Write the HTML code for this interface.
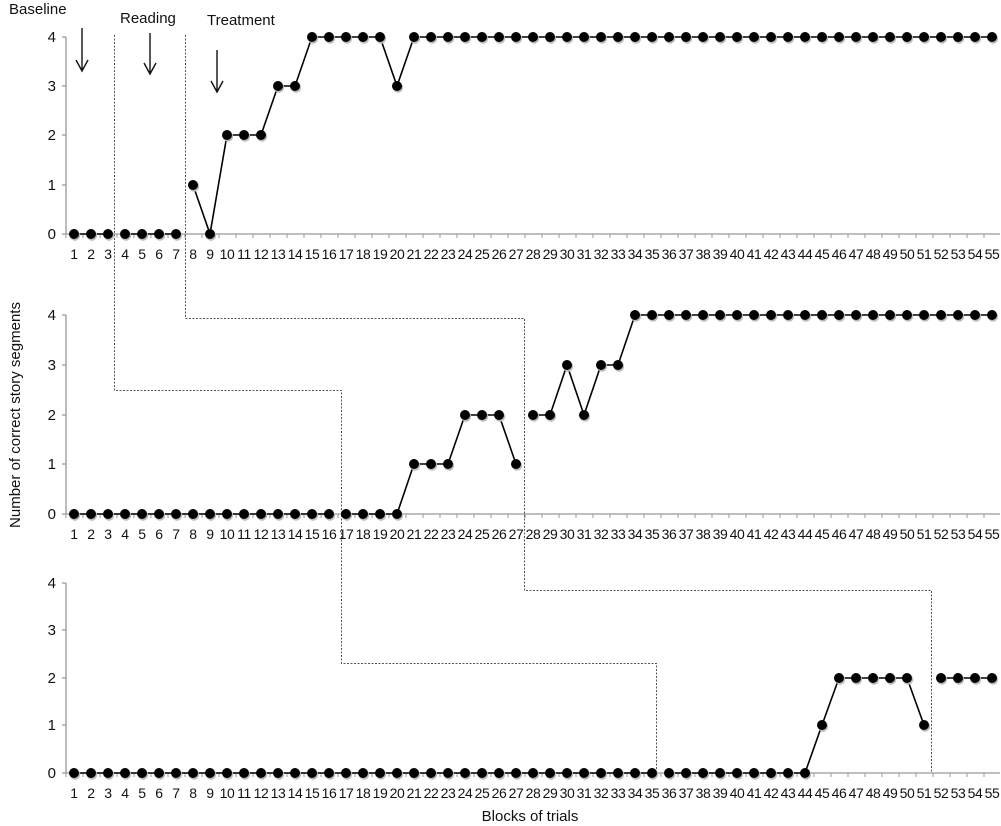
<!DOCTYPE html>
<html><head><meta charset="utf-8"><style>
html,body{margin:0;padding:0;background:#fff;}
svg{display:block;font-family:"Liberation Sans",Arial,sans-serif;}
</style></head><body>
<svg width="1001" height="826" viewBox="0 0 1001 826" xmlns="http://www.w3.org/2000/svg">
<defs>
<marker id="d" markerUnits="userSpaceOnUse" markerWidth="14" markerHeight="14" refX="7" refY="7" viewBox="0 0 14 14">
<circle cx="8" cy="8.5" r="5.2" fill="#bbb"/>
<circle cx="7" cy="7" r="5" fill="#000"/>
</marker>
<g id="lbl" font-size="14" letter-spacing="-0.4" text-anchor="middle" fill="#111">
<text x="74">1</text><text x="91">2</text><text x="108">3</text><text x="125">4</text><text x="142">5</text><text x="159">6</text><text x="176">7</text><text x="193">8</text><text x="210">9</text><text x="227">10</text><text x="244">11</text><text x="261">12</text><text x="278">13</text><text x="295">14</text><text x="312">15</text><text x="329">16</text><text x="346">17</text><text x="363">18</text><text x="380">19</text><text x="397">20</text><text x="414">21</text><text x="431">22</text><text x="448">23</text><text x="465">24</text><text x="482">25</text><text x="499">26</text><text x="516">27</text><text x="533">28</text><text x="550">29</text><text x="567">30</text><text x="584">31</text><text x="601">32</text><text x="618">33</text><text x="635">34</text><text x="652">35</text><text x="669">36</text><text x="686">37</text><text x="703">38</text><text x="720">39</text><text x="737">40</text><text x="754">41</text><text x="771">42</text><text x="788">43</text><text x="805">44</text><text x="822">45</text><text x="839">46</text><text x="856">47</text><text x="873">48</text><text x="890">49</text><text x="907">50</text><text x="924">51</text><text x="941">52</text><text x="958">53</text><text x="975">54</text><text x="992">55</text>
</g>
</defs>

<g stroke="#999" stroke-width="1.3" fill="none">
<line x1="66" y1="37" x2="66" y2="234"/><line x1="66" y1="234" x2="1000" y2="234"/>
<line x1="65.5" y1="236" x2="1000" y2="236" stroke-width="4" stroke-dasharray="1 16"/>
<line x1="66" y1="315" x2="66" y2="514"/><line x1="66" y1="514" x2="1000" y2="514"/>
<line x1="65.5" y1="516" x2="1000" y2="516" stroke-width="4" stroke-dasharray="1 16"/>
<line x1="66" y1="583" x2="66" y2="773"/><line x1="66" y1="773" x2="1000" y2="773"/>
<line x1="65.5" y1="775" x2="1000" y2="775" stroke-width="4" stroke-dasharray="1 16"/>
<path d="M62 37H66M62 86H66M62 135H66M62 185H66M62 234H66M62 315H66M62 365H66M62 415H66M62 464H66M62 514H66M62 583H66M62 630H66M62 678H66M62 725H66M62 773H66"/>
</g>
<g font-size="15" text-anchor="end" fill="#111">
<text x="56" y="42">4</text><text x="56" y="91">3</text><text x="56" y="140">2</text><text x="56" y="190">1</text><text x="56" y="239">0</text>
<text x="56" y="320">4</text><text x="56" y="370">3</text><text x="56" y="420">2</text><text x="56" y="469">1</text><text x="56" y="519">0</text>
<text x="56" y="588">4</text><text x="56" y="635">3</text><text x="56" y="683">2</text><text x="56" y="730">1</text><text x="56" y="778">0</text>
</g>
<use href="#lbl" y="259"/>
<use href="#lbl" y="539"/>
<use href="#lbl" y="798"/>

<g stroke="#555" stroke-width="1" stroke-dasharray="2 1.5" fill="none">
<path d="M114.5 35V390.5H341.5V663.5H656.5V773"/>
<path d="M185.5 35V318.5H524.5V590.5H931.5V773"/>
</g>

<g stroke="#000" stroke-width="1.6" fill="none" marker-start="url(#d)" marker-mid="url(#d)" marker-end="url(#d)">
<polyline points="74,234 91,234 108,234"/>
<polyline points="125,234 142,234 159,234 176,234"/>
<polyline points="193,185 210,234 227,135 244,135 261,135 278,86 295,86 312,37 329,37 346,37 363,37 380,37 397,86 414,37 431,37 448,37 465,37 482,37 499,37 516,37 533,37 550,37 567,37 584,37 601,37 618,37 635,37 652,37 669,37 686,37 703,37 720,37 737,37 754,37 771,37 788,37 805,37 822,37 839,37 856,37 873,37 890,37 907,37 924,37 941,37 958,37 975,37 992,37"/>

<polyline points="74,514 91,514 108,514 125,514 142,514 159,514 176,514 193,514 210,514 227,514 244,514 261,514 278,514 295,514 312,514 329,514"/>
<polyline points="346,514 363,514 380,514 397,514 414,464 431,464 448,464 465,415 482,415 499,415 516,464"/>
<polyline points="533,415 550,415 567,365 584,415 601,365 618,365 635,315 652,315 669,315 686,315 703,315 720,315 737,315 754,315 771,315 788,315 805,315 822,315 839,315 856,315 873,315 890,315 907,315 924,315 941,315 958,315 975,315 992,315"/>

<polyline points="74,773 91,773 108,773 125,773 142,773 159,773 176,773 193,773 210,773 227,773 244,773 261,773 278,773 295,773 312,773 329,773 346,773 363,773 380,773 397,773 414,773 431,773 448,773 465,773 482,773 499,773 516,773 533,773 550,773 567,773 584,773 601,773 618,773 635,773 652,773"/>
<polyline points="669,773 686,773 703,773 720,773 737,773 754,773 771,773 788,773 805,773 822,725 839,678 856,678 873,678 890,678 907,678 924,725"/>
<polyline points="941,678 958,678 975,678 992,678"/>
</g>

<g font-size="15" fill="#111">
<text x="9" y="14">Baseline</text>
<text x="120" y="23">Reading</text>
<text x="207" y="25">Treatment</text>
</g>
<g stroke="#111" stroke-width="1.4" fill="none">
<path d="M82 28V71M76 60L82 71L88 60"/>
<path d="M150 33V74M144 63L150 74L156 63"/>
<path d="M217 50V92M211 81L217 92L223 81"/>
</g>

<text x="530" y="821" font-size="15" text-anchor="middle" fill="#111">Blocks of trials</text>
<text transform="translate(20,415) rotate(-90)" font-size="15" text-anchor="middle" fill="#111">Number of correct story segments</text>
</svg>
</body></html>
